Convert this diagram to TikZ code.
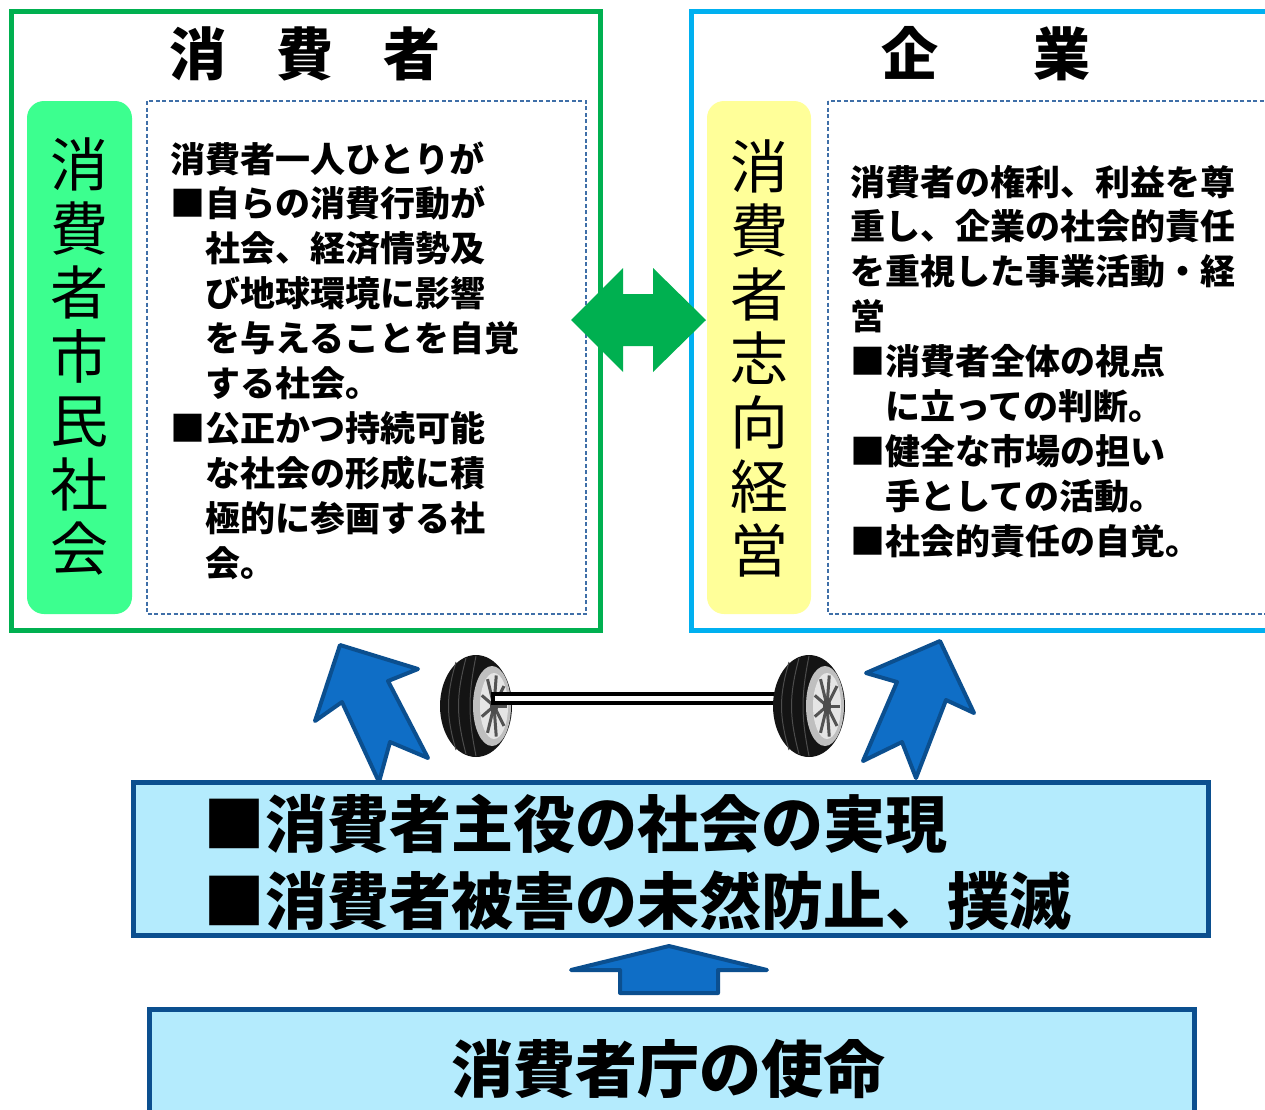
\documentclass[tikz,border=0pt]{standalone}
\usepackage{fontspec}
\setmainfont{Noto Sans CJK JP}
\definecolor{grn}{HTML}{00B050}
\definecolor{cyn}{HTML}{00B0F0}
\definecolor{mint}{HTML}{3CFF8F}
\definecolor{lemon}{HTML}{FFFF99}
\definecolor{dashblue}{HTML}{3F6FA8}
\definecolor{navy}{HTML}{0B4F8F}
\definecolor{arrowblue}{HTML}{0F6EC6}
\definecolor{pale}{HTML}{B4EBFD}
\begin{document}
\begin{tikzpicture}[x=1pt,y=-1pt,
  frame/.style={line width=5pt},
  dotbox/.style={draw=dashblue, line width=1.5pt, dash pattern=on 4pt off 2.5pt},
  pill/.style={rounded corners=17pt},
  vert/.style={font=\fontsize{58}{64}\selectfont, align=center, inner sep=0pt},
  ttl/.style={font=\fontsize{57}{60}\selectfont\bfseries, inner sep=0pt, anchor=base},
  body/.style={font=\fontsize{35}{45}\selectfont\bfseries, inner sep=0pt, anchor=base west},
  big/.style={font=\fontsize{62}{70}\selectfont\bfseries, inner sep=0pt},
  bigbox/.style={draw=navy, fill=pale, line width=4.5pt, inner sep=0pt},
  blockarrow/.style={fill=arrowblue, draw=navy, line width=4pt, line join=round},
  tyre/.pic={
    \fill[black!92] (0,0) ellipse [x radius=36pt, y radius=51pt];
    \draw[black!70, line width=1pt] (-20,-44) .. controls (-30,-10) and (-30,10) .. (-20,44);
    \draw[black!70, line width=1pt] (-10,-48) .. controls (-20,-10) and (-20,10) .. (-10,48);
    \draw[black!70, line width=1pt] (0,-50) .. controls (-8,-10) and (-8,10) .. (0,50);
    \fill[gray!50] (16,0) ellipse [x radius=19pt, y radius=40pt];
    \fill[gray!20] (18,0) ellipse [x radius=14pt, y radius=33pt];
    \foreach \a in {0,40,...,320}
      \draw[gray!65!black, line width=3pt] (18,0) -- ++({13*cos(\a)},{31*sin(\a)});
    \fill[gray!60!black] (18,0) ellipse [x radius=4pt, y radius=8pt];
  }]
\useasboundingbox (0,0) rectangle (1265,1109);
\clip (0,0) rectangle (1265,1109);
\fill[white] (0,0) rectangle (1265,1109);

% consumer side
\draw[frame, grn] (11,11) rectangle (600,630);
\node[ttl] (ttlL) at (305,75) {消\hspace{50pt}費\hspace{50pt}者};
\fill[pill, mint] (27,101) rectangle (132,614);
\node[vert] (colL) at (79,357) {消\\費\\者\\市\\民\\社\\会};
\draw[dotbox] (147,101) rectangle (586,614);
\foreach \xx/\t [count=\i from 0] in {
  170/消費者一人ひとりが,
  170/■自らの消費行動が,
  205/社会、経済情勢及,
  205/び地球環境に影響,
  205/を与えることを自覚,
  205/する社会。,
  170/■公正かつ持続可能,
  205/な社会の形成に積,
  205/極的に参画する社,
  205/会。}
  \node[body] (lineL\i) at (\xx,172+44.9*\i) {\t};

% business side
\draw[frame, cyn] (691,11) rectangle (1290,630);
\node[ttl] (ttlR) at (986,75) {企\hspace{95pt}業};
\fill[pill, lemon] (707,101) rectangle (811,614);
\node[vert] (colR) at (759,358) {消\\費\\者\\志\\向\\経\\営};
\draw[dotbox] (828,101) rectangle (1290,614);
\foreach \xx/\t [count=\i from 0] in {
  850/消費者の権利、利益を尊,
  850/重し、企業の社会的責任,
  850/を重視した事業活動・経,
  850/営,
  850/■消費者全体の視点,
  885/に立っての判断。,
  850/■健全な市場の担い,
  885/手としての活動。,
  850/■社会的責任の自覚。}
  \node[body] (lineR\i) at (\xx,195+44.9*\i) {\t};

% two-way link between the sides
\fill[grn] (571,320) -- (623,268) -- (623,294) -- (653,294) -- (653,268)
  -- (706,320) -- (653,372) -- (653,346) -- (623,346) -- (623,372) -- cycle;

% wheels on an axle
\coordinate (tyreL) at (476,706);
\coordinate (tyreR) at (809,706);
\pic at (tyreL) {tyre};
\draw[line width=4pt, fill=white] ([shift={(17,-12)}]tyreL) rectangle ([shift={(-30,-3)}]tyreR);
\pic at (tyreR) {tyre};

% upward arrows into both sides
\draw[blockarrow] (340,645) -- (418,669) -- (388,681) -- (428,758) -- (390,742)
  -- (379,782) -- (342,702) -- (315,721) -- cycle;
\draw[blockarrow] (940,641) -- (974,713) -- (946,700) -- (916,778) -- (902,742)
  -- (863,761) -- (897,682) -- (866,673) -- cycle;

% mission statement
\node[bigbox, minimum width=1075pt, minimum height=153pt, anchor=north west] (goals) at (131,780) {};
\node[big, anchor=base west] (goal1) at (203,847) {■消費者主役の社会の実現};
\node[big, anchor=base west] (goal2) at (203,924) {■消費者被害の未然防止、撲滅};

\draw[blockarrow] (669,946) -- (767,970) -- (718,970) -- (718,993) -- (620,993)
  -- (620,970) -- (571,970) -- cycle;

\node[bigbox, minimum width=1045pt, minimum height=160pt, anchor=north west] (agency) at (147,1007) {};
\node[big, anchor=base] (agencyText) at (668,1092) {消費者庁の使命};
\end{tikzpicture}
\end{document}
